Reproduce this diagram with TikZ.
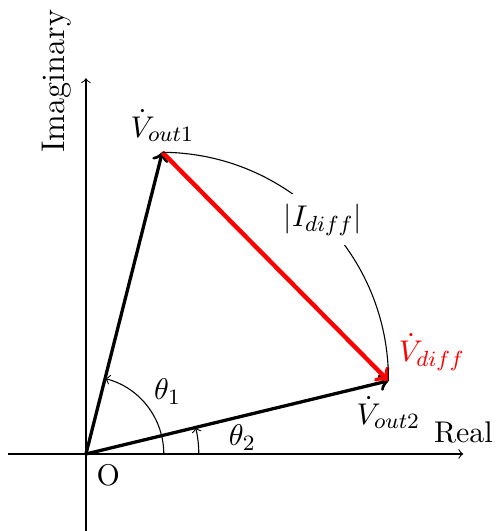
\documentclass[tikz,border=0pt,11pt]{standalone}
\usepackage{amsmath}
\usetikzlibrary{positioning}

\begin{document}
\begin{tikzpicture}[
  ax/.style={->},
  vec/.style={->,very thick},
  dvec/.style={->,ultra thick,red},
  ang/.style={->}]
  \useasboundingbox (-1.105,-0.99) rectangle (5.27,5.835);
  % axes
  \coordinate (O) at (0,0);
  \coordinate (xl) at (-1,0);
  \coordinate (xr) at (4.85,0);
  \coordinate (yb) at (0,-1);
  \coordinate (yt) at (0,4.83);
  \draw[ax] (xl) -- (xr) node[above] (re) {Real};
  \draw[ax] (yb) -- (yt);
  \node[rotate=90,anchor=south,font=\large] (im) at (-0.05,4.79) {Imaginary};
  \node[below right] (o) at (O) {O};
  % phasors
  \coordinate (v1) at (75.8:4);
  \coordinate (v2) at (13.6:4);
  \draw[vec] (O) -- (v1);
  \draw[vec] (O) -- (v2);
  \draw[dvec] (v1) -- (v2);
  \node[above] (l1) at (v1) {$\dot{V}_{out1}$};
  \node[below=2pt] (l2) at (v2) {$\dot{V}_{out2}$};
  \node[above right,text=red] (ld) at (v2) {$\dot{V}_{diff}$};
  \draw (v1) to[bend left=45] node[fill=white] (li) {$|I_{diff}|$} (v2);
  % angles
  \draw[ang] (1,0) arc[start angle=0,end angle=75.8,radius=1];
  \draw[ang] (1.45,0) arc[start angle=0,end angle=13.6,radius=1.45];
  \node (t1) at (1.05,0.8) {$\theta_1$};
  \node (t2) at (2.01,0.21) {$\theta_2$};
\end{tikzpicture}
\end{document}
